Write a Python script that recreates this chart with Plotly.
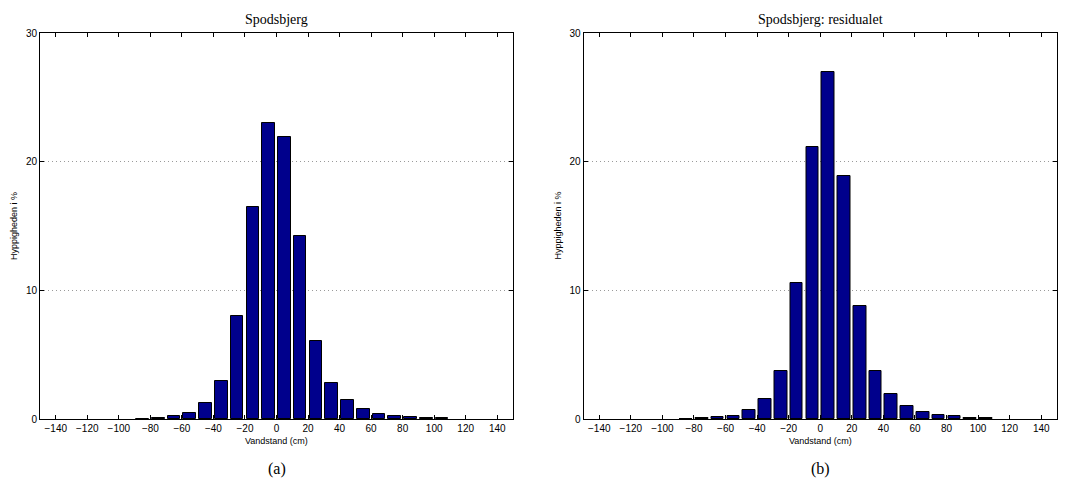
import plotly.graph_objects as go

# Bin centres (cm) and frequencies (%)
bin_centers = [-85, -75, -65, -55, -45, -35, -25, -15, -5, 5, 15, 25, 35, 45, 55, 65, 75, 85, 95, 105]
freq_a = [0.0, 0.1, 0.2, 0.48, 1.22, 2.95, 8.0, 16.5, 23.0, 21.9, 14.2, 6.08, 2.8, 1.47, 0.75, 0.42, 0.25, 0.12, 0.06, 0.04]
freq_b = [0.0, 0.05, 0.15, 0.26, 0.7, 1.53, 3.73, 10.6, 21.15, 26.95, 18.88, 8.78, 3.73, 1.92, 1.01, 0.52, 0.3, 0.2, 0.06, 0.05]

titles = ["Spodsbjerg", "Spodsbjerg: residualet"]
captions = ["(a)", "(b)"]
x_ticks = list(range(-140, 141, 20))
y_ticks = [0, 10, 20, 30]

W, H = 1070, 499
x_domains = [(40 / W, 513 / W), (583.5 / W, 1057 / W)]
y_domain = (1 - 419 / H, 1 - 33 / H)

fig = go.Figure()
for i, vals in enumerate([freq_a, freq_b]):
    xa = "x" if i == 0 else "x2"
    ya = "y" if i == 0 else "y2"
    fig.add_trace(go.Bar(
        x=bin_centers, y=vals, width=8,
        marker=dict(color="#00008c", line=dict(color="black", width=1)),
        xaxis=xa, yaxis=ya, showlegend=False,
    ))

axis_common = dict(
    showline=True, linecolor="black", linewidth=1, mirror="ticks",
    ticks="inside", ticklen=4, tickcolor="black", zeroline=False, automargin=False,
    tickfont=dict(family="Liberation Sans, Arial", size=10, color="black"),
)
for i in range(2):
    sfx = "" if i == 0 else "2"
    fig.update_layout(**{
        f"xaxis{sfx}": dict(
            domain=x_domains[i], range=[-150, 150], tickvals=x_ticks,
            showgrid=False, anchor=f"y{sfx}", **axis_common),
        f"yaxis{sfx}": dict(
            domain=y_domain, range=[0, 30], tickvals=y_ticks,
            showgrid=True, gridcolor="#9a9a9a", griddash="1px,3px", gridwidth=1,
            anchor=f"x{sfx}", **axis_common),
    })

annotations = []
for i in range(2):
    x0, x1 = x_domains[i]
    xc = (x0 + x1) / 2
    annotations.append(dict(text=titles[i], x=xc, y=1 - 19 / H, xref="paper", yref="paper",
                            yanchor="middle", xanchor="center",
                            showarrow=False, font=dict(family="Liberation Serif, Times New Roman", size=14, color="black")))
    annotations.append(dict(text="Vandstand (cm)", x=xc, y=1 - 441 / H, xref="paper", yref="paper",
                            yanchor="middle", xanchor="center",
                            showarrow=False, font=dict(family="Liberation Sans, Arial", size=9, color="black")))
    annotations.append(dict(text="Hyppigheden i %", x=(x0 * W - 26) / W, y=(y_domain[0] + y_domain[1]) / 2,
                            xref="paper", yref="paper", textangle=-90,
                            yanchor="middle", xanchor="center",
                            showarrow=False, font=dict(family="Liberation Sans, Arial", size=9, color="black")))
    annotations.append(dict(text=captions[i], x=xc, y=1 - 469 / H, xref="paper", yref="paper",
                            yanchor="middle", xanchor="center",
                            showarrow=False, font=dict(family="Liberation Serif, Times New Roman", size=16, color="black")))

fig.update_layout(
    width=W, height=H, margin=dict(l=0, r=0, t=0, b=0),
    paper_bgcolor="white", plot_bgcolor="white", bargap=0,
    annotations=annotations,
)

fig.write_html("out.html")
